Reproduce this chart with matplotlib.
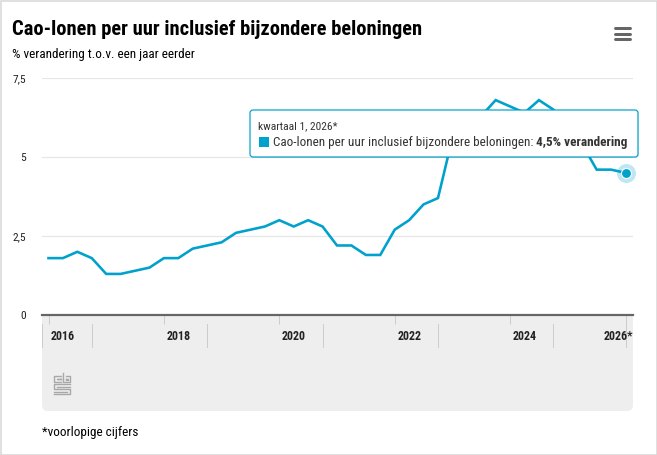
import matplotlib
matplotlib.use("Agg")
import matplotlib.pyplot as plt
from matplotlib import font_manager
from matplotlib.patches import FancyBboxPatch, Rectangle
from matplotlib.transforms import blended_transform_factory
import numpy as np

# --- data ---------------------------------------------------------------
title = "Cao-lonen per uur inclusief bijzondere beloningen"
subtitle = "% verandering t.o.v. een jaar eerder"
footnote = "*voorlopige cijfers"
series_name = "Cao-lonen per uur inclusief bijzondere beloningen"

years = list(range(2016, 2027))
quarters = [f"kwartaal {q}, {y}" for y in years for q in range(1, 5)][:41]
quarters[-1] = quarters[-1] + "*"
values = [1.8, 1.8, 2.0, 1.8,   # 2016
          1.3, 1.3, 1.4, 1.5,   # 2017
          1.8, 1.8, 2.1, 2.2,   # 2018
          2.3, 2.6, 2.7, 2.8,   # 2019
          3.0, 2.8, 3.0, 2.8,   # 2020
          2.2, 2.2, 1.9, 1.9,   # 2021
          2.7, 3.0, 3.5, 3.7,   # 2022
          5.6, 6.0, 6.3, 6.8,   # 2023
          6.6, 6.4, 6.8, 6.5,   # 2024
          6.0, 5.4, 4.6, 4.6,   # 2025
          4.5]                  # 2026
year_ticks = [2016, 2018, 2020, 2022, 2024, 2026]
year_labels = ["2016", "2018", "2020", "2022", "2024", "2026*"]
y_ticks = [0, 2.5, 5, 7.5]
y_labels = ["0", "2,5", "5", "7,5"]

# --- style --------------------------------------------------------------
W, H = 657, 455
BLUE = "#00a1cd"
PT = 0.72  # px -> pt at dpi 100


def pick_font():
    names = {f.name for f in font_manager.fontManager.ttflist}
    for cand in ["Roboto Condensed", "Open Sans Condensed", "Liberation Sans Narrow",
                 "Noto Sans Condensed", "DejaVu Sans Condensed"]:
        if cand in names:
            return cand, "normal"
    for f in font_manager.fontManager.ttflist:
        if f.name == "DejaVu Sans" and f.stretch == "condensed":
            return "DejaVu Sans", "condensed"
    return "Roboto", "normal"


FONT, STRETCH = pick_font()
plt.rcParams["font.family"] = [FONT, "DejaVu Sans"]
plt.rcParams["font.stretch"] = STRETCH

fig = plt.figure(figsize=(W / 100, H / 100), dpi=100)
fig.patch.set_facecolor("white")

# overlay in pixel coords for the frame and decorations
ov = fig.add_axes([0, 0, 1, 1])
ov.set_xlim(0, W)
ov.set_ylim(H, 0)
ov.axis("off")
ov.set_zorder(0)

# chart axes
ax_l, ax_r, ax_t, ax_b = 42, 633, 78, 315
ax = fig.add_axes([ax_l / W, 1 - ax_b / H, (ax_r - ax_l) / W, (ax_b - ax_t) / H])
ax.set_zorder(1)
x = np.arange(len(values))
step = (625.5 - 48.5) / (len(values) - 1)
ax.set_xlim(-6.5 / step, len(values) - 1 + 7.5 / step)
ax.set_ylim(0, 7.5)

ax.plot(x, values, color=BLUE, lw=2.6 * PT, solid_joinstyle="miter", zorder=3, clip_on=False)
ax.plot(x[-1], values[-1], "o", ms=19 * PT, color=BLUE, alpha=0.25, mec="none", zorder=4, clip_on=False)
ax.plot(x[-1], values[-1], "o", ms=10 * PT, color=BLUE, mec="white", mew=0.8, zorder=5, clip_on=False)

ax.set_yticks(y_ticks)
ax.set_yticklabels(y_labels)
ax.grid(axis="y", color="#e6e6e6", lw=1.2 * PT)
ax.set_axisbelow(True)
for side in ["left", "right", "top"]:
    ax.spines[side].set_visible(False)
ax.spines["bottom"].set_color("#666666")
ax.spines["bottom"].set_linewidth(2.2 * PT)
ax.spines["bottom"].set_zorder(6)
ax.tick_params(axis="y", length=0, pad=16 * PT, labelsize=11.5 * PT, labelcolor="#222222")

year_pos = [(y - years[0]) * 4 for y in year_ticks]
ax.set_xticks(year_pos)
ax.set_xticklabels([])
ax.tick_params(axis="x", length=9 * PT, width=1 * PT, color="#cccccc", direction="out")

# grey panel under the x axis
ov.add_patch(FancyBboxPatch((ax_l, 300), ax_r - ax_l, 111,
                            boxstyle="round,pad=0,rounding_size=6",
                            fc="#eeeeee", ec="none", zorder=0))

# label separators and year labels
tr = blended_transform_factory(ax.transData, ov.transData)
for p in [ax.get_xlim()[0]] + [yp + 3 for yp in year_pos[:-1]] + [year_pos[-1]]:
    ov.plot([p, p], [324, 347], color="#cccccc", lw=1 * PT, transform=tr, clip_on=False, zorder=2)
for yp, lab in zip(year_pos, year_labels):
    if lab.endswith("*"):
        ov.text(ax.get_xlim()[1], 340, lab, transform=tr, ha="right", va="baseline",
                fontsize=12 * PT, fontweight="bold", color="#222222", zorder=3)
    else:
        ov.text(yp + 1, 340, lab, transform=tr, ha="center", va="baseline",
                fontsize=12 * PT, fontweight="bold", color="#222222", zorder=3)

# cbs logo (rough outline)
lg = "#a8a8a8"
lw_logo = 1.4 * PT
ov.plot([61, 54, 54, 61], [376, 376, 382, 382], color=lg, lw=lw_logo)
ov.plot([61, 57, 57, 61], [379, 379, 379, 379], color=lg, lw=lw_logo)
ov.plot([63, 63, 70, 70, 65.5], [373, 382, 382, 376, 376], color=lg, lw=lw_logo)
ov.plot([66, 67.5, 67.5, 66, 66], [378.5, 378.5, 380, 380, 378.5], color=lg, lw=lw_logo)
ov.plot([70, 54, 54, 70, 70, 54], [384, 384, 389, 389, 394, 394], color=lg, lw=lw_logo)
ov.plot([70, 57], [386.5, 386.5], color=lg, lw=lw_logo)
ov.plot([67, 54], [391.5, 391.5], color=lg, lw=lw_logo)

# titles and footnote
ov.text(12, 35, title, fontsize=20.5 * PT, fontweight="bold", color="#000000", va="baseline")
ov.text(12, 58, subtitle, fontsize=13.3 * PT, color="#000000", va="baseline")
ov.text(42, 436, footnote, fontsize=13.3 * PT, color="#000000", va="baseline")

# menu icon
for yy in [28, 33.5, 39]:
    ov.plot([615, 630], [yy, yy], color="#666666", lw=3 * PT, solid_capstyle="round")

# frame
ov.add_patch(Rectangle((0.5, 0.5), W - 1, H - 1, fill=False, ec="#d6d6d6", lw=1.5 * PT))

# tooltip on top of the line
tt = fig.add_axes([0, 0, 1, 1])
tt.set_xlim(0, W)
tt.set_ylim(H, 0)
tt.axis("off")
tt.set_zorder(2)
tt.add_patch(FancyBboxPatch((251, 111), 388, 47, boxstyle="round,pad=0,rounding_size=3",
                            fc="#000000", ec="none", alpha=0.08))
tt.add_patch(FancyBboxPatch((250, 110), 388, 47, boxstyle="round,pad=0,rounding_size=3",
                            fc="white", ec=BLUE, lw=1.2 * PT))
tt.text(258, 129, quarters[-1], fontsize=11.5 * PT, color="#333333", va="baseline")
tt.add_patch(Rectangle((259, 137), 10, 10, fc=BLUE, ec="none"))
t1 = tt.text(273, 146, series_name + ": ", fontsize=13.3 * PT, color="#333333", va="baseline")
value_txt = f"{values[-1]:.1f}".replace(".", ",") + "% verandering"
tt.annotate(value_txt, xy=(1, 0), xycoords=t1, ha="left", va="bottom",
            fontsize=13.3 * PT, fontweight="bold", color="#333333")

fig.savefig("out.png", dpi=100)
